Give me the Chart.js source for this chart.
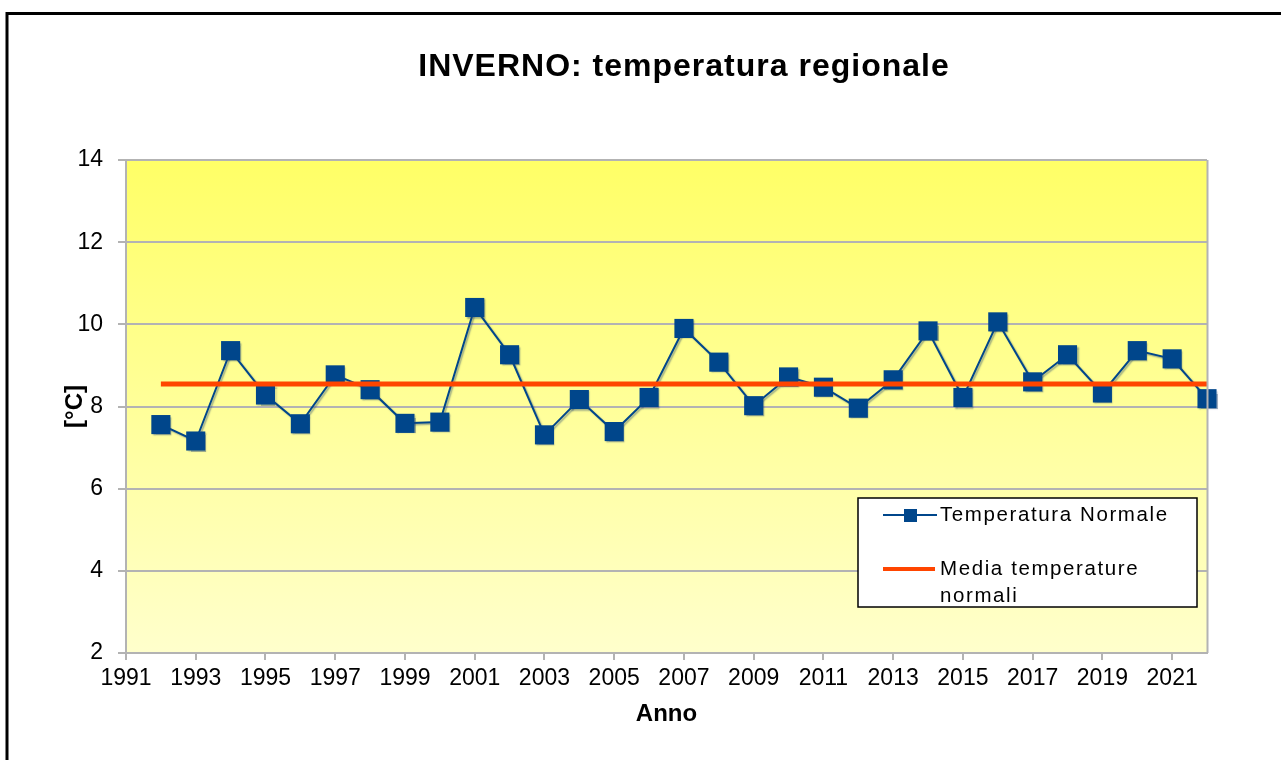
<!DOCTYPE html>
<html>
<head>
<meta charset="utf-8">
<script src="https://cdn.jsdelivr.net/npm/chart.js@4/dist/chart.umd.min.js"></script>
<style>
  html, body { margin: 0; padding: 0; background: #fff; }
  #wrap { width: 1281px; height: 760px; }
</style>
</head>
<body>
<div id="wrap"><canvas id="myChart" width="1281" height="760"></canvas></div>
<script>
const years = [1992, 1993, 1994, 1995, 1996, 1997, 1998, 1999, 2000, 2001, 2002,
  2003, 2004, 2005, 2006, 2007, 2008, 2009, 2010, 2011, 2012,
  2013, 2014, 2015, 2016, 2017, 2018, 2019, 2020, 2021, 2022];
const temperaturaNormale = [7.56, 7.16, 9.36, 8.28, 7.58, 8.77, 8.41, 7.59, 7.62, 10.41, 9.26,
  7.31, 8.17, 7.39, 8.22, 9.90, 9.08, 8.02, 8.72, 8.47, 7.96,
  8.65, 9.84, 8.22, 10.06, 8.60, 9.26, 8.33, 9.36, 9.16, 8.19];
const mediaTemperature = 8.55;
const yearTicks = [1991, 1993, 1995, 1997, 1999, 2001, 2003, 2005, 2007, 2009, 2011, 2013, 2015, 2017, 2019, 2021];
const tempTicks = [2, 4, 6, 8, 10, 12, 14];

const FONT = "'Liberation Sans', Arial, sans-serif";
const BLUE = '#00468b';
const RED = '#ff4500';
const GRID = '#b3b3b3';

// sfondo sfumato, cornice, titolo e legenda
const decor = {
  id: 'decor',
  beforeDraw(chart) {
    const {ctx, chartArea: a} = chart;
    const g = ctx.createLinearGradient(0, a.top, 0, a.bottom);
    g.addColorStop(0, '#ffff66');
    g.addColorStop(1, '#ffffcc');
    ctx.save();
    ctx.fillStyle = g;
    ctx.fillRect(a.left, a.top, a.right - a.left, a.bottom - a.top);
    ctx.restore();
  },
  beforeDatasetDraw(chart, args) {
    if (args.index !== 1) return;
    const ctx = chart.ctx;
    ctx.save();
    ctx.shadowColor = 'rgba(40,70,110,0.45)';
    ctx.shadowOffsetX = 1.5;
    ctx.shadowOffsetY = 1.5;
    ctx.shadowBlur = 1.5;
  },
  afterDatasetDraw(chart, args) {
    if (args.index !== 1) return;
    chart.ctx.restore();
  },
  afterDraw(chart) {
    const {ctx, chartArea: a} = chart;
    ctx.save();
    // bordo destro dell'area
    ctx.strokeStyle = GRID;
    ctx.lineWidth = 2;
    ctx.beginPath();
    ctx.moveTo(a.right + 0.5, a.top);
    ctx.lineTo(a.right + 0.5, a.bottom);
    ctx.stroke();

    // cornice esterna
    ctx.strokeStyle = '#000';
    ctx.lineWidth = 3;
    ctx.beginPath();
    ctx.moveTo(7, 760);
    ctx.lineTo(7, 13.5);
    ctx.lineTo(1281, 13.5);
    ctx.stroke();

    // titolo
    ctx.fillStyle = '#000';
    ctx.font = 'bold 32px ' + FONT;
    ctx.letterSpacing = '1px';
    ctx.textAlign = 'center';
    ctx.textBaseline = 'middle';
    ctx.fillText('INVERNO: temperatura regionale', 684, 67);

    // legenda
    ctx.letterSpacing = '1.6px';
    ctx.fillStyle = '#fff';
    ctx.fillRect(858, 498, 339, 109);
    ctx.strokeStyle = '#000';
    ctx.lineWidth = 1.5;
    ctx.strokeRect(858, 498, 339, 109);

    ctx.strokeStyle = BLUE;
    ctx.lineWidth = 2;
    ctx.beginPath();
    ctx.moveTo(883, 515);
    ctx.lineTo(937, 515);
    ctx.stroke();
    ctx.fillStyle = BLUE;
    ctx.fillRect(904, 509, 13, 13);

    ctx.strokeStyle = RED;
    ctx.lineWidth = 4;
    ctx.beginPath();
    ctx.moveTo(883, 569);
    ctx.lineTo(935, 569);
    ctx.stroke();

    ctx.fillStyle = '#000';
    ctx.font = '20.5px ' + FONT;
    ctx.textAlign = 'left';
    ctx.textBaseline = 'alphabetic';
    ctx.fillText('Temperatura Normale', 940, 521);
    ctx.fillText('Media temperature', 940, 575);
    ctx.fillText('normali', 940, 602);
    ctx.restore();
  }
};

new Chart(document.getElementById('myChart'), {
  type: 'line',
  data: {
    datasets: [
      {
        label: 'Media temperature normali',
        data: [{x: years[0], y: mediaTemperature}, {x: years[years.length - 1], y: mediaTemperature}],
        borderColor: RED,
        borderWidth: 5,
        pointRadius: 0,
        order: 0,
        clip: false
      },
      {
        label: 'Temperatura Normale',
        data: years.map((y, i) => ({x: y, y: temperaturaNormale[i]})),
        borderColor: BLUE,
        borderWidth: 2,
        pointStyle: 'rect',
        pointRadius: 13.5,
        pointBackgroundColor: BLUE,
        pointBorderColor: BLUE,
        pointBorderWidth: 0,
        tension: 0,
        order: 1,
        clip: false
      }
    ]
  },
  options: {
    responsive: false,
    animation: false,
    events: [],
    layout: { padding: { left: 0, top: 160, right: 74, bottom: 0 } },
    plugins: {
      legend: { display: false },
      title: { display: false },
      tooltip: { enabled: false }
    },
    scales: {
      x: {
        type: 'linear',
        min: 1991,
        max: 2022,
        afterFit: s => { s.height = 107; },
        afterBuildTicks: s => { s.ticks = yearTicks.map(v => ({value: v})); },
        grid: { drawOnChartArea: false, color: GRID, lineWidth: 2, tickLength: 7 },
        border: { color: GRID, width: 2 },
        ticks: {
          color: '#000',
          font: { family: FONT, size: 23 },
          padding: 5,
          maxRotation: 0,
          autoSkip: false,
          callback: v => String(v)
        },
        title: {
          display: true,
          text: 'Anno',
          color: '#000',
          font: { family: FONT, size: 24, weight: 'bold' },
          padding: { top: 0, bottom: 31 }
        }
      },
      y: {
        min: tempTicks[0],
        max: tempTicks[tempTicks.length - 1],
        afterFit: s => { s.width = 126; },
        afterBuildTicks: s => { s.ticks = tempTicks.map(v => ({value: v})); },
        grid: { color: GRID, lineWidth: 2, tickLength: 8 },
        border: { color: GRID, width: 2 },
        ticks: {
          color: '#000',
          font: { family: FONT, size: 23 },
          padding: 15
        },
        title: {
          display: true,
          text: '[°C]',
          color: '#000',
          font: { family: FONT, size: 24, weight: 'bold' },
          padding: { top: 61, bottom: 0 }
        }
      }
    }
  },
  plugins: [decor]
});
</script>
</body>
</html>
